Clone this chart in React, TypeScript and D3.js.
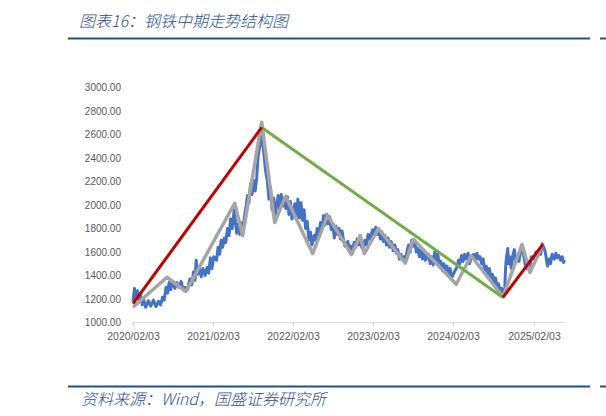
import React from "react";
import * as d3 from "d3";

const titleText = "图表16：钢铁中期走势结构图";
const sourceText = "资料来源：Wind，国盛证券研究所";

const yTicks = [1000, 1200, 1400, 1600, 1800, 2000, 2200, 2400, 2600, 2800, 3000];
const xTickDates = ["2020-02-03", "2021-02-03", "2022-02-03", "2023-02-03", "2024-02-03", "2025-02-03"];
const xDomain = ["2020-02-03", "2025-06-26"];

const priceSeries: [string, number][] = [
  ["2020-02-03",1180],["2020-02-10",1290],["2020-02-17",1210],["2020-02-24",1270],["2020-03-02",1180],
  ["2020-03-09",1230],["2020-03-16",1150],["2020-03-23",1190],["2020-04-01",1130],["2020-04-13",1185],
  ["2020-04-24",1140],["2020-05-06",1190],["2020-05-18",1135],["2020-05-29",1180],["2020-06-08",1150],
  ["2020-06-17",1215],["2020-06-24",1190],["2020-07-03",1300],["2020-07-10",1250],["2020-07-17",1340],
  ["2020-07-24",1280],["2020-08-03",1350],["2020-08-12",1290],["2020-08-21",1340],["2020-08-31",1300],
  ["2020-09-09",1350],["2020-09-18",1285],["2020-09-28",1300],["2020-10-09",1280],["2020-10-19",1370],
  ["2020-10-28",1320],["2020-11-05",1430],["2020-11-12",1360],["2020-11-17",1530],["2020-11-23",1410],
  ["2020-12-01",1470],["2020-12-10",1390],["2020-12-18",1460],["2020-12-28",1400],["2021-01-06",1470],
  ["2021-01-13",1420],["2021-01-21",1550],["2021-01-28",1460],["2021-02-05",1560],["2021-02-18",1530],
  ["2021-02-25",1640],["2021-03-04",1580],["2021-03-11",1700],["2021-03-18",1640],["2021-03-25",1720],
  ["2021-04-01",1680],["2021-04-09",1800],["2021-04-16",1740],["2021-04-23",1880],["2021-04-30",1800],
  ["2021-05-10",1960],["2021-05-14",1870],["2021-05-21",1760],["2021-05-28",1840],["2021-06-04",1750],
  ["2021-06-11",1850],["2021-06-18",1760],["2021-06-25",1900],["2021-07-02",1980],["2021-07-09",2080],
  ["2021-07-16",2020],["2021-07-23",2180],["2021-07-30",2090],["2021-08-06",2210],["2021-08-13",2120],
  ["2021-08-20",2230],["2021-08-27",2420],["2021-09-03",2500],["2021-09-10",2660],["2021-09-15",2530],
  ["2021-09-22",2440],["2021-09-29",2300],["2021-10-08",2200],["2021-10-15",2050],["2021-10-22",2150],
  ["2021-10-29",1960],["2021-11-05",2060],["2021-11-12",1900],["2021-11-19",2000],["2021-11-26",2080],
  ["2021-12-03",1960],["2021-12-10",2090],["2021-12-17",1990],["2021-12-24",2060],["2021-12-31",1970],
  ["2022-01-07",2070],["2022-01-14",1920],["2022-01-21",2030],["2022-01-28",1880],["2022-02-10",2010],
  ["2022-02-17",1900],["2022-02-24",2050],["2022-03-03",1890],["2022-03-10",2020],["2022-03-17",1870],
  ["2022-03-24",1960],["2022-03-31",1800],["2022-04-08",1860],["2022-04-15",1700],["2022-04-22",1770],
  ["2022-04-29",1660],["2022-05-09",1740],["2022-05-16",1700],["2022-05-23",1800],["2022-05-30",1740],
  ["2022-06-07",1850],["2022-06-14",1800],["2022-06-21",1910],["2022-06-28",1830],["2022-07-05",1920],
  ["2022-07-12",1840],["2022-07-19",1900],["2022-07-26",1790],["2022-08-02",1840],["2022-08-09",1720],
  ["2022-08-16",1820],["2022-08-23",1750],["2022-08-30",1800],["2022-09-06",1710],["2022-09-13",1780],
  ["2022-09-20",1700],["2022-09-27",1650],["2022-10-10",1690],["2022-10-17",1600],["2022-10-24",1650],
  ["2022-10-31",1590],["2022-11-07",1680],["2022-11-14",1640],["2022-11-21",1710],["2022-11-28",1660],
  ["2022-12-05",1740],["2022-12-12",1640],["2022-12-19",1620],["2022-12-26",1700],["2023-01-03",1660],
  ["2023-01-10",1750],["2023-01-17",1710],["2023-01-31",1790],["2023-02-07",1740],["2023-02-14",1810],
  ["2023-02-21",1750],["2023-02-28",1790],["2023-03-07",1710],["2023-03-14",1770],["2023-03-21",1690],
  ["2023-03-28",1740],["2023-04-04",1660],["2023-04-11",1720],["2023-04-18",1640],["2023-04-25",1690],
  ["2023-05-05",1610],["2023-05-12",1660],["2023-05-19",1590],["2023-05-26",1620],["2023-06-02",1540],
  ["2023-06-09",1580],["2023-06-16",1530],["2023-06-23",1560],["2023-06-30",1540],["2023-07-07",1610],
  ["2023-07-14",1660],["2023-07-21",1600],["2023-07-28",1700],["2023-08-04",1650],["2023-08-11",1680],
  ["2023-08-18",1600],["2023-08-25",1630],["2023-09-01",1560],["2023-09-08",1620],["2023-09-15",1540],
  ["2023-09-22",1600],["2023-09-28",1530],["2023-10-13",1580],["2023-10-20",1500],["2023-10-27",1560],
  ["2023-11-03",1490],["2023-11-10",1600],["2023-11-17",1520],["2023-11-24",1580],["2023-12-01",1490],
  ["2023-12-08",1520],["2023-12-15",1440],["2023-12-22",1500],["2023-12-29",1450],["2024-01-05",1480],
  ["2024-01-12",1400],["2024-01-19",1460],["2024-01-26",1380],["2024-02-05",1420],["2024-02-19",1470],
  ["2024-02-26",1530],["2024-03-04",1500],["2024-03-11",1570],["2024-03-18",1520],["2024-03-25",1580],
  ["2024-04-01",1540],["2024-04-10",1590],["2024-04-17",1500],["2024-04-24",1560],["2024-05-06",1580],
  ["2024-05-13",1520],["2024-05-20",1590],["2024-05-27",1540],["2024-06-03",1560],["2024-06-11",1500],
  ["2024-06-18",1540],["2024-06-25",1430],["2024-07-02",1480],["2024-07-09",1400],["2024-07-16",1460],
  ["2024-07-23",1380],["2024-07-30",1410],["2024-08-06",1320],["2024-08-13",1380],["2024-08-20",1300],
  ["2024-08-27",1330],["2024-09-03",1260],["2024-09-10",1290],["2024-09-18",1220],["2024-09-24",1260],
  ["2024-09-27",1420],["2024-09-30",1520],["2024-10-08",1630],["2024-10-11",1500],["2024-10-17",1560],
  ["2024-10-24",1460],["2024-10-31",1570],["2024-11-07",1620],["2024-11-14",1510],["2024-11-21",1560],
  ["2024-11-28",1520],["2024-12-05",1600],["2024-12-12",1660],["2024-12-19",1580],["2024-12-26",1500],
  ["2025-01-03",1460],["2025-01-10",1520],["2025-01-17",1480],["2025-01-24",1560],["2025-02-07",1540],
  ["2025-02-14",1600],["2025-02-21",1560],["2025-02-28",1620],["2025-03-07",1580],["2025-03-14",1670],
  ["2025-03-21",1640],["2025-03-28",1600],["2025-04-07",1480],["2025-04-14",1540],["2025-04-21",1500],
  ["2025-04-28",1580],["2025-05-08",1540],["2025-05-15",1590],["2025-05-22",1550],["2025-05-29",1570],
  ["2025-06-06",1530],["2025-06-13",1560],["2025-06-20",1510],["2025-06-24",1530],
];

const zigzagSeries: [string, number][] = [
  ["2020-02-03",1130],["2020-07-07",1385],["2020-10-01",1264],["2021-05-12",2015],["2021-06-17",1740],
  ["2021-09-12",2705],["2021-11-10",1851],["2021-12-30",2075],["2022-05-02",1587],["2022-07-09",1912],
  ["2022-10-26",1579],["2022-12-06",1738],["2022-12-24",1587],["2023-02-26",1800],["2023-06-29",1505],
  ["2023-08-04",1708],["2024-02-16",1325],["2024-04-24",1568],["2024-09-16",1218],["2024-12-12",1664],
  ["2025-01-17",1426],["2025-03-17",1665],
];

const upTrend1: [string, number][] = [["2020-02-03",1160],["2021-09-12",2660]];
const downTrend: [string, number][] = [["2021-09-12",2660],["2024-09-16",1213]];
const upTrend2: [string, number][] = [["2024-09-16",1213],["2025-03-17",1665]];

const parse = d3.timeParse("%Y-%m-%d");

export default function App() {
  const x = d3.scaleTime()
    .domain(xDomain.map((d) => parse(d) as Date))
    .range([133, 565]);
  const y = d3.scaleLinear().domain([1000, 3000]).range([322.5, 87.5]);
  const line = d3.line<[string, number]>()
    .x((d) => x(parse(d[0]) as Date))
    .y((d) => y(d[1]));
  const fmt = d3.format(".2f");
  const tf = d3.timeFormat("%Y/%m/%d");
  const font = "'Liberation Sans', Arial, sans-serif";
  const cjk = "'Noto Sans CJK SC', 'Liberation Sans', sans-serif";
  return (
    <svg width={606} height={416} style={{ position: "absolute", left: 0, top: 0, background: "#fff" }}>
      <text x={79} y={27} fontFamily={cjk} fontSize={16} fontWeight={300} fontStyle="italic" fill="#2B4F9E">{titleText}</text>
      <line x1={68} x2={590} y1={38.5} y2={38.5} stroke="#1E4E9C" strokeWidth={2} />
      <line x1={600} x2={606} y1={38.5} y2={38.5} stroke="#1E4E9C" strokeWidth={2} />

      {yTicks.map((t) => (
        <text key={t} x={121} y={y(t) + 3.5} textAnchor="end" fontFamily={font} fontSize={10} fill="#595959">{fmt(t)}</text>
      ))}
      <line x1={133} x2={565} y1={322.5} y2={322.5} stroke="#D9D9D9" strokeWidth={1} />
      {xTickDates.map((d) => {
        const xx = Math.round(x(parse(d) as Date)) + 0.5;
        return (
          <g key={d}>
            <line x1={xx} x2={xx} y1={322.5} y2={326.5} stroke="#D9D9D9" strokeWidth={1} />
            <text x={xx} y={340} textAnchor="middle" fontFamily={font} fontSize={10.5} fill="#595959">{tf(parse(d) as Date)}</text>
          </g>
        );
      })}

      <path d={line(priceSeries) || ""} fill="none" stroke="#4472C4" strokeWidth={3} strokeLinejoin="round" />
      <path d={line(zigzagSeries) || ""} fill="none" stroke="#A5A5A5" strokeWidth={3.5} strokeLinejoin="round" />
      <path d={line(downTrend) || ""} fill="none" stroke="#70AD47" strokeWidth={3} />
      <path d={line(upTrend1) || ""} fill="none" stroke="#C00000" strokeWidth={3} />
      <path d={line(upTrend2) || ""} fill="none" stroke="#C00000" strokeWidth={3} />

      <line x1={68} x2={590} y1={386.5} y2={386.5} stroke="#1E4E9C" strokeWidth={2} />
      <line x1={600} x2={606} y1={386.5} y2={386.5} stroke="#1E4E9C" strokeWidth={2} />
      <text x={81} y={405} fontFamily={cjk} fontSize={16} fontWeight={300} fontStyle="italic" fill="#2B4F9E">{sourceText}</text>
    </svg>
  );
}
